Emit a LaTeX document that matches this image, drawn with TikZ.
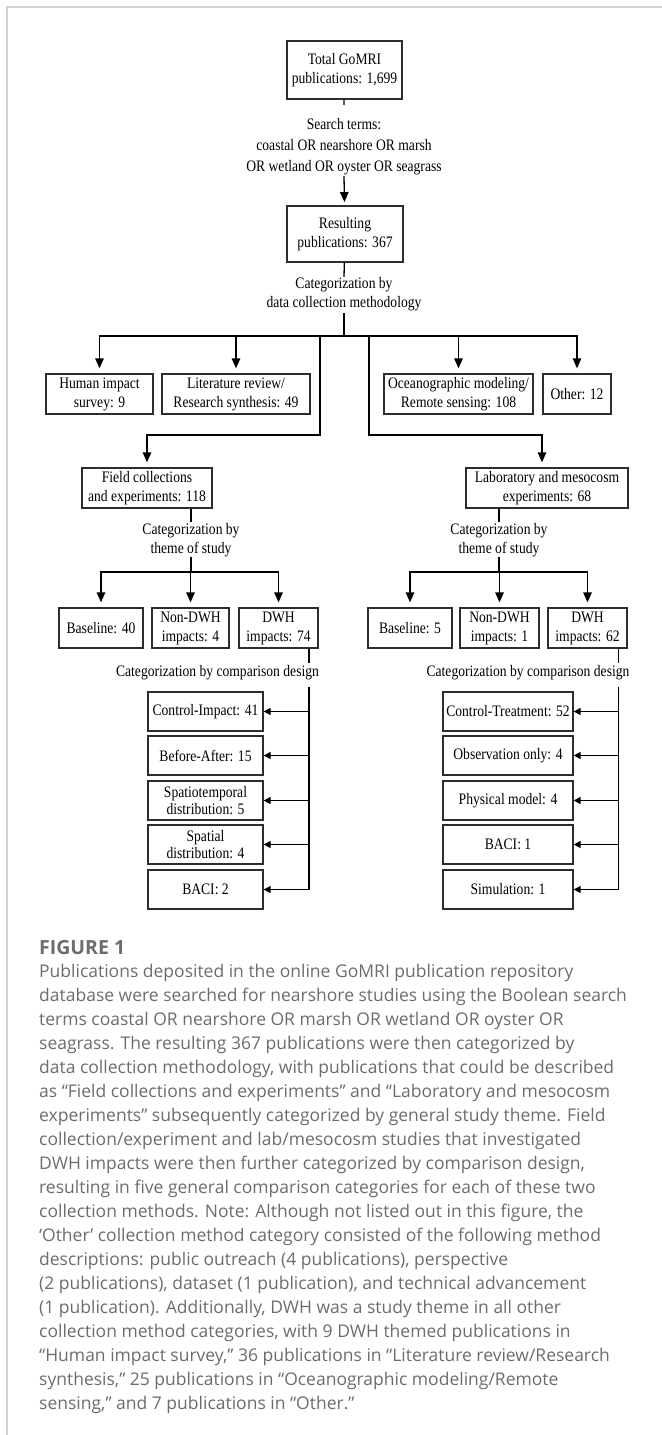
\documentclass[tikz,border=0pt]{standalone}
\usepackage{fontspec}
\setmainfont{Liberation Serif}[FakeStretch=0.85]
\newfontfamily\capfont{Open Sans}
\usepackage{tikz}
\usetikzlibrary{positioning}
\usetikzlibrary{arrows.meta}
\usetikzlibrary{calc}
\definecolor{framegray}{RGB}{210,210,210}
\definecolor{capgray}{RGB}{108,108,108}
\definecolor{boxline}{RGB}{45,45,45}
\tikzstyle{catbox}=[draw=boxline, line width=1.3bp, align=center, inner sep=0pt, font=\fontsize{16bp}{19bp}\selectfont]
\tikzstyle{topbox}=[catbox, line width=1.9bp]
\tikzstyle{catlabel}=[align=center, inner sep=0pt, font=\fontsize{16bp}{19bp}\selectfont]
\tikzstyle{link}=[draw=black, line width=1.3bp]
\tikzstyle{downarrow}=[link, -{Triangle[width=8.5bp,length=10bp]}, shorten >=5bp]
\tikzstyle{sidearrow}=[link, -{Triangle[width=7bp,length=7bp]}]

\begin{document}
\begin{tikzpicture}[x=1bp, y=-1bp]
    \useasboundingbox (0,0) rectangle (662,1435);
    % frame of the figure
    \draw[framegray, line width=2bp] (6.5,1435) -- (6.5,7) -- (662,7);

    % search of the repository
    \node[topbox, minimum width=115bp, minimum height=58bp] (total) at (344.5,70) {Total GoMRI\\publications: 1,699};
    \node[catlabel, font=\fontsize{16bp}{21bp}\selectfont] (search) at (344,147) {Search terms:\\coastal OR nearshore OR marsh\\OR wetland OR oyster OR seagrass};
    \node[topbox, minimum width=116bp, minimum height=56bp] (result) at (345,234) {Resulting\\publications: 367};
    \coordinate (searchtop) at (344,105);
    \coordinate (searchbot) at (344,176);
    \draw[link] (total) -- (searchtop);
    \draw[downarrow, shorten >=3bp] (searchbot) -- (result);

    % data collection methodology
    \node[catlabel] (method) at (344,294.5) {Categorization by\\data collection methodology};
    \coordinate (methtop) at (344,277);
    \coordinate (methbot) at (344,313);
    \coordinate (bus) at (344,336);
    \draw[link] (result) -- (methtop);
    \draw[link] (methbot) -- (bus);

    \foreach \name/\cx/\w/\txt in {human/99.5/107/{Human impact\\survey: 9}, litrev/236/148/{Literature review/\\Research synthesis: 49}, ocean/458.5/149/{Oceanographic modeling/\\Remote sensing: 108}, other/577/68/{Other: 12}}
        \node[catbox, minimum width=\w bp, minimum height=40bp] (\name) at (\cx,394) {\txt};
    % Connect the bus with the boxes
    \foreach \name in {human, litrev, ocean, other}
        \draw[downarrow] (bus) -| (\name);

    \node[catbox, minimum width=130bp, minimum height=40bp] (field) at (147,488) {Field collections\\and experiments: 118};
    \node[catbox, minimum width=162bp, minimum height=40bp] (lab) at (547,488) {Laboratory and mesocosm\\experiments: 68};
    \coordinate (fieldfork) at (320,336);
    \coordinate (fieldbend) at (320,435);
    \coordinate (labfork) at (369,336);
    \coordinate (labbend) at (369,435);
    \draw[downarrow] (fieldfork) -- (fieldbend) -| (field);
    \draw[downarrow] (labfork) -- (labbend) -| ([xshift=-5bp]lab.north);

    %left tree: theme of study
    \node[catlabel] (themeF) at (191,540) {Categorization by\\theme of study};
    \coordinate (themeFtop) at (191,522);
    \coordinate (themeFbot) at (191,557);
    \coordinate (busF) at (191,572);
    \draw[link] (field.south -| themeFtop) -- (themeFtop);
    \draw[link] (themeFbot) -- (busF);
    \foreach \name/\cx/\w/\txt in {baseF/101/84/{Baseline: 40}, nondwhF/190.5/77/{Non-DWH\\impacts: 4}, dwhF/278.5/79/{DWH\\impacts: 74}}
        \node[catbox, minimum width=\w bp, minimum height=40bp] (\name) at (\cx,628) {\txt};
    \foreach \name in {baseF, nondwhF, dwhF}
        \draw[downarrow] (busF) -| (\name);

    %right tree: theme of study
    \node[catlabel] (themeL) at (499,540) {Categorization by\\theme of study};
    \coordinate (themeLtop) at (499,522);
    \coordinate (themeLbot) at (499,557);
    \coordinate (busL) at (499,572);
    \draw[link] (lab.south -| themeLtop) -- (themeLtop);
    \draw[link] (themeLbot) -- (busL);
    \foreach \name/\cx/\w/\txt in {baseL/410/84/{Baseline: 5}, nondwhL/499.5/79/{Non-DWH\\impacts: 1}, dwhL/587.5/79/{DWH\\impacts: 62}}
        \node[catbox, minimum width=\w bp, minimum height=40bp] (\name) at (\cx,628) {\txt};
    \foreach \name in {baseL, nondwhL, dwhL}
        \draw[downarrow] (busL) -| (\name);

    %left tree: comparison design
    \node[catlabel] (compF) at (217.5,673) {Categorization by comparison design};
    \coordinate (compFtop) at (309,663);
    \coordinate (spineF) at (309,687);
    \draw[link] (dwhF.south -| compFtop) -- (compFtop);
    \foreach \name/\cy/\txt in {ciF/711.5/{Control-Impact: 41}, baF/755.5/{Before-After: 15}, stF/800.5/{Spatiotemporal\\distribution: 5}, spF/844.5/{Spatial\\distribution: 4}, baciF/889.5/{BACI: 2}}
        \node[catbox, minimum width=115bp, minimum height=39bp, font=\fontsize{16bp}{17.5bp}\selectfont] (\name) at (205.5,\cy) {\txt};
    \foreach \name in {ciF, baF, stF, spF}
        \draw[sidearrow] (spineF |- \name) -- (\name);
    \draw[sidearrow] (spineF) |- (baciF);

    %right tree: comparison design
    \node[catlabel] (compL) at (528,673) {Categorization by comparison design};
    \coordinate (compLtop) at (618.5,663);
    \coordinate (spineL) at (618.5,687);
    \draw[link] (dwhL.south -| compLtop) -- (compLtop);
    \foreach \name/\cy/\txt in {ctL/711.5/{Control-Treatment: 52}, obsL/755.5/{Observation only: 4}, physL/800.5/{Physical model: 4}, baciL/844.5/{BACI: 1}, simL/889.5/{Simulation: 1}}
        \node[catbox, minimum width=130bp, minimum height=39bp] (\name) at (508,\cy) {\txt};
    \foreach \name in {ctL, obsL, physL, baciL}
        \draw[sidearrow] (spineL |- \name) -- (\name);
    \draw[sidearrow] (spineL) |- (simL);

    % caption
    \node[anchor=north west, inner sep=0pt, text=capgray, font={\capfont\bfseries\fontsize{19.5bp}{22bp}\selectfont}] (figtitle) at (39,940) {FIGURE 1};
    \node[anchor=north west, inner sep=0pt, align=left, text=capgray, font={\capfont\fontsize{17.5bp}{24bp}\selectfont}] (caption) at (39,964) {Publications deposited in the online GoMRI publication repository\\
database were searched for nearshore studies using the Boolean search\\
terms coastal OR nearshore OR marsh OR wetland OR oyster OR\\
seagrass. The resulting 367 publications were then categorized by\\
data collection methodology, with publications that could be described\\
as “Field collections and experiments” and “Laboratory and mesocosm\\
experiments” subsequently categorized by general study theme. Field\\
collection/experiment and lab/mesocosm studies that investigated\\
DWH impacts were then further categorized by comparison design,\\
resulting in five general comparison categories for each of these two\\
collection methods. Note: Although not listed out in this figure, the\\
‘Other’ collection method category consisted of the following method\\
descriptions: public outreach (4 publications), perspective\\
(2 publications), dataset (1 publication), and technical advancement\\
(1 publication). Additionally, DWH was a study theme in all other\\
collection method categories, with 9 DWH themed publications in\\
“Human impact survey,” 36 publications in “Literature review/Research\\
synthesis,” 25 publications in “Oceanographic modeling/Remote\\
sensing,” and 7 publications in “Other.”};
\end{tikzpicture}
\end{document}
